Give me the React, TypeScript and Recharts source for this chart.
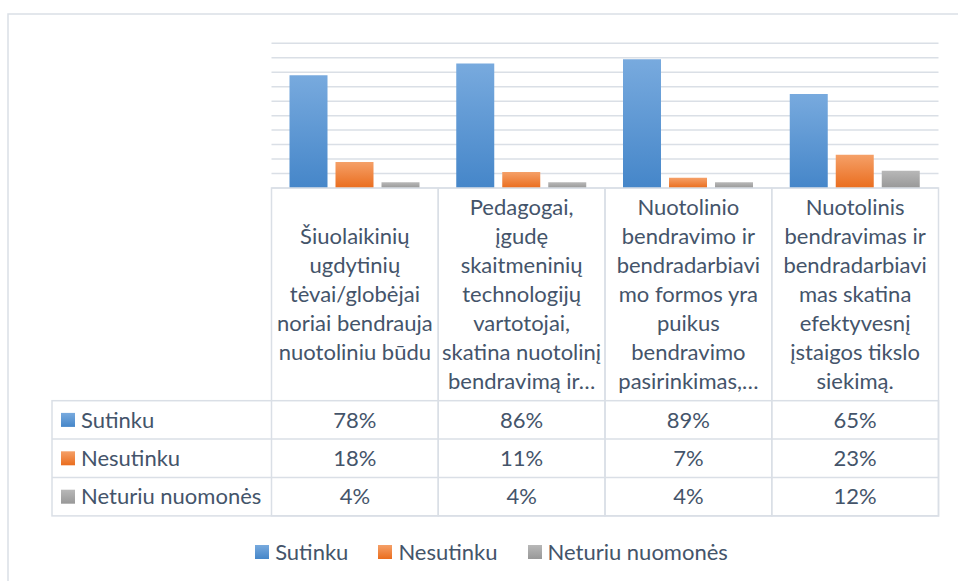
import { BarChart, Bar, XAxis, YAxis, CartesianGrid } from 'recharts';

const categoryLines = [
  ['Šiuolaikinių', 'ugdytinių', 'tėvai/globėjai', 'noriai bendrauja', 'nuotoliniu būdu'],
  ['Pedagogai,', 'įgudę', 'skaitmeninių', 'technologijų', 'vartotojai,', 'skatina nuotolinį', 'bendravimą ir…'],
  ['Nuotolinio', 'bendravimo ir', 'bendradarbiavi', 'mo formos yra', 'puikus', 'bendravimo', 'pasirinkimas,…'],
  ['Nuotolinis', 'bendravimas ir', 'bendradarbiavi', 'mas skatina', 'efektyvesnį', 'įstaigos tikslo', 'siekimą.'],
];
const categories = categoryLines.map((l) => l.join(' '));

const sutinku = [78, 86, 89, 65];
const nesutinku = [18, 11, 7, 23];
const neturiu = [4, 4, 4, 12];

const yTicks = [0, 10, 20, 30, 40, 50, 60, 70, 80, 90, 100];

const series = [
  { key: 'sutinku', name: 'Sutinku', values: sutinku, top: '#78aade', bottom: '#4586c9' },
  { key: 'nesutinku', name: 'Nesutinku', values: nesutinku, top: '#f5a068', bottom: '#ea6d1e' },
  { key: 'neturiu', name: 'Neturiu nuomonės', values: neturiu, top: '#b8b8b8', bottom: '#989898' },
];

const data = categories.map((name, i) => ({
  name,
  sutinku: sutinku[i],
  nesutinku: nesutinku[i],
  neturiu: neturiu[i],
}));

const W = 958;
const H = 581;
const PLOT_L = 271.5;
const PLOT_R = 938.5;
const PLOT_T = 43.3;
const AXIS_Y = 188;
const HEAD_H = 212.7;
const ROW_H = 38.4;
const LINE_H = 29;
const TABLE_L = 52;
const FONT = 'Lato, "Open Sans", sans-serif';
const FS = 22;
const TXT = '#44546a';
const BORDER = '#dadfe6';

function ColumnTick(props: any) {
  const { x, y, payload } = props;
  let i = payload.index;
  if (i === undefined) i = categories.indexOf(payload.value);
  const colW = (PLOT_R - PLOT_L) / categories.length;
  const lines = categoryLines[i] || [];
  const mid = y + HEAD_H / 2;
  const start = mid - ((lines.length - 1) * LINE_H) / 2;
  return (
    <g>
      <rect x={x - colW / 2} y={y} width={colW} height={HEAD_H + ROW_H * 3} fill="none" stroke={BORDER} strokeWidth={1.5} />
      {lines.map((t, k) => (
        <text key={k} x={x} y={start + k * LINE_H} dy="0.35em" textAnchor="middle" fontFamily={FONT} fontSize={FS} fill={TXT}>
          {t}
        </text>
      ))}
      {series.map((s, r) => (
        <text key={s.key} x={x} y={y + HEAD_H + ROW_H * r + ROW_H / 2} dy="0.35em" textAnchor="middle" fontFamily={FONT} fontSize={FS} fill={TXT}>
          {s.values[i]}%
        </text>
      ))}
    </g>
  );
}

export default function App() {
  return (
    <div style={{ position: 'absolute', left: 0, top: 0, width: W, height: H, background: '#fff', fontFamily: FONT }}>
      <svg width={W} height={H} style={{ position: 'absolute', left: 0, top: 0 }}>
        <defs>
          {series.map((s) => (
            <linearGradient key={s.key} id={'leg-' + s.key} x1="0" y1="0" x2="0" y2="1">
              <stop offset="0%" stopColor={s.top} />
              <stop offset="100%" stopColor={s.bottom} />
            </linearGradient>
          ))}
        </defs>
        <rect x={8} y={14} width={W + 20} height={H + 20} fill="none" stroke={BORDER} strokeWidth={1.5} />
        <rect x={TABLE_L} y={AXIS_Y + HEAD_H} width={PLOT_R - TABLE_L} height={ROW_H * 3} fill="none" stroke={BORDER} strokeWidth={1.5} />
        {series.map((s, r) => {
          const cy = AXIS_Y + HEAD_H + ROW_H * r + ROW_H / 2;
          return (
            <g key={s.key}>
              {r > 0 && <line x1={TABLE_L} x2={PLOT_R} y1={AXIS_Y + HEAD_H + ROW_H * r} y2={AXIS_Y + HEAD_H + ROW_H * r} stroke={BORDER} strokeWidth={1.5} />}
              <rect x={61} y={cy - 7} width={14} height={14} fill={'url(#leg-' + s.key + ')'} />
              <text x={81} y={cy} dy="0.35em" fontFamily={FONT} fontSize={FS} fill={TXT}>
                {s.name}
              </text>
            </g>
          );
        })}
      </svg>
      <div style={{ position: 'absolute', left: 0, top: 0 }}>
        <BarChart
          width={W}
          height={H}
          data={data}
          margin={{ top: PLOT_T, left: PLOT_L, right: W - PLOT_R, bottom: 0 }}
          barSize={38}
          barGap={8}
        >
          <defs>
            {series.map((s) => (
              <linearGradient key={s.key} id={'grad-' + s.key} x1="0" y1="0" x2="0" y2="1">
                <stop offset="0%" stopColor={s.top} />
                <stop offset="100%" stopColor={s.bottom} />
              </linearGradient>
            ))}
          </defs>
          <CartesianGrid vertical={false} stroke={BORDER} strokeWidth={1.5} />
          <YAxis hide domain={[0, 100]} ticks={yTicks} interval={0} />
          <XAxis
            dataKey="name"
            height={H - AXIS_Y}
            axisLine={false}
            tickLine={false}
            tickSize={0}
            tickMargin={0}
            interval={0}
            tick={<ColumnTick />}
          />
          {series.map((s) => (
            <Bar key={s.key} dataKey={s.key} name={s.name} fill={'url(#grad-' + s.key + ')'} isAnimationActive={false} />
          ))}
        </BarChart>
      </div>
      <div
        style={{
          position: 'absolute',
          left: 0,
          top: 540,
          width: 983,
          display: 'flex',
          justifyContent: 'center',
          alignItems: 'center',
          fontSize: FS,
          color: TXT,
          lineHeight: '24px',
        }}
      >
        {series.map((s, k) => (
          <div key={s.key} style={{ display: 'flex', alignItems: 'center', marginLeft: k === 0 ? 0 : 30 }}>
            <span style={{ display: 'inline-block', width: 14, height: 14, marginRight: 6, background: `linear-gradient(${s.top}, ${s.bottom})` }} />
            <span>{s.name}</span>
          </div>
        ))}
      </div>
    </div>
  );
}
